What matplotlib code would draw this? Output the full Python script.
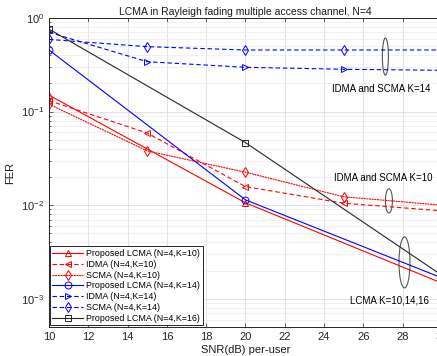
import matplotlib
matplotlib.use("Agg")
import matplotlib.pyplot as plt
from matplotlib.patches import Ellipse
from matplotlib.ticker import LogLocator, FixedLocator, NullFormatter

plt.rcParams['font.family'] = ['Liberation Sans', 'DejaVu Sans']
plt.rcParams['mathtext.fontset'] = 'custom'
plt.rcParams['mathtext.rm'] = 'Liberation Sans'

# SNR grids (dB per user)
snr_lcma = [10, 20, 30]
snr = [10, 15, 20, 25, 30]

# Frame error rates
lcma_k10 = [0.150, 0.0106, 0.00147]
idma_k10 = [0.131, 0.059, 0.0158, 0.0105, 0.0087]
scma_k10 = [0.120, 0.038, 0.0225, 0.0123, 0.0100]
lcma_k14 = [0.455, 0.0114, 0.00167]
idma_k14 = [0.703, 0.341, 0.297, 0.283, 0.276]
scma_k14 = [0.59, 0.494, 0.455, 0.455, 0.455]
lcma_k16 = [0.76, 0.0466, 0.00178]

labels = [
    'Proposed LCMA (N=4,K=10)',
    'IDMA (N=4,K=10)',
    'SCMA (N=4,K=10)',
    'Proposed LCMA (N=4,K=14)',
    'IDMA (N=4,K=14)',
    'SCMA (N=4,K=14)',
    'Proposed LCMA (N=4,K=16)',
]
xticks = [10, 12, 14, 16, 18, 20, 22, 24, 26, 28, 30]

fig = plt.figure(figsize=(4.37, 3.56), dpi=100)
ax = fig.add_axes([0.1121, 0.0815, 0.8993, 0.868])

red = '#ff0000'
blue = '#0000ff'
blk = '#262626'
lw = 0.8
ms = 5
dash = (4, 2.5)
dot = (1.8, 0.6)

ax.plot(snr_lcma, lcma_k10, color=red, lw=lw, marker='^', ms=ms, mfc='none', mew=0.7, label=labels[0])
ax.plot(snr, idma_k10, color=red, lw=lw, dashes=dash, marker='<', ms=ms, mfc='none', mew=0.7, label=labels[1])
ax.plot(snr, scma_k10, color=red, lw=lw, dashes=dot, marker='d', ms=ms, mfc='none', mew=0.7, label=labels[2])
ax.plot(snr_lcma, lcma_k14, color=blue, lw=lw, marker='o', ms=ms, mfc='none', mew=0.7, label=labels[3])
ax.plot(snr, idma_k14, color=blue, lw=lw, dashes=dash, marker='>', ms=ms, mfc='none', mew=0.7, label=labels[4])
ax.plot(snr, scma_k14, color=blue, lw=lw, dashes=dash, marker='d', ms=ms, mfc='none', mew=0.7, label=labels[5])
ax.plot(snr_lcma, lcma_k16, color=blk, lw=lw, marker='s', ms=4.5, mfc='none', mew=0.7, label=labels[6])

ax.set_yscale('log')
ax.set_xlim(10, 30)
ax.set_ylim(5e-4, 1)
ax.xaxis.set_major_locator(FixedLocator(xticks))
ax.yaxis.set_major_locator(LogLocator(base=10, numticks=10))
ax.yaxis.set_minor_locator(LogLocator(base=10, subs=range(2, 10), numticks=20))
ax.yaxis.set_minor_formatter(NullFormatter())

ax.grid(True, which='major', color='#dedede', lw=0.6)
ax.grid(True, which='minor', axis='y', color='#ececec', lw=0.5)
ax.set_axisbelow(True)

for s in ax.spines.values():
    s.set_color('#262626')
    s.set_linewidth(0.7)
ax.tick_params(which='both', direction='in', top=True, right=True, colors='#262626',
               labelsize=8, width=0.5)
ax.tick_params(which='major', length=3)
ax.tick_params(which='minor', length=1.5)

ax.set_title('LCMA in Rayleigh fading multiple access channel, N=4', fontsize=7.5, pad=2.5, color='#1a1a1a')
ax.set_xlabel('SNR(dB) per-user', fontsize=8, labelpad=2, color='#1a1a1a')
ax.set_ylabel('FER', fontsize=8, labelpad=4, color='#1a1a1a')

# Group annotations
ell_kw = dict(transform=ax.transAxes, fill=False, ec='#555555', lw=0.8)
ax.add_patch(Ellipse((0.856, 0.875), 0.0153, 0.12, **ell_kw))
ax.add_patch(Ellipse((0.865, 0.408), 0.0178, 0.078, **ell_kw))
ax.add_patch(Ellipse((0.9046, 0.209), 0.028, 0.165, **ell_kw))

ax.text(24.4, 0.174, 'IDMA and SCMA K=14', fontsize=7.0, va='center', ha='left')
ax.text(24.5, 0.0197, 'IDMA and SCMA K=10', fontsize=7.0, va='center', ha='left')
ax.text(25.3, 9.5e-4, 'LCMA K=10,14,16', fontsize=7.0, va='center', ha='left')

leg = ax.legend(loc='lower left', bbox_to_anchor=(0.002, 0.005), fontsize=6.4,
                handlelength=3.4, handletextpad=0.4, labelspacing=0.2,
                borderpad=0.3, borderaxespad=0, fancybox=False, framealpha=1,
                edgecolor='#262626')
leg.get_frame().set_linewidth(0.7)

fig.savefig('out.png', dpi=100)
